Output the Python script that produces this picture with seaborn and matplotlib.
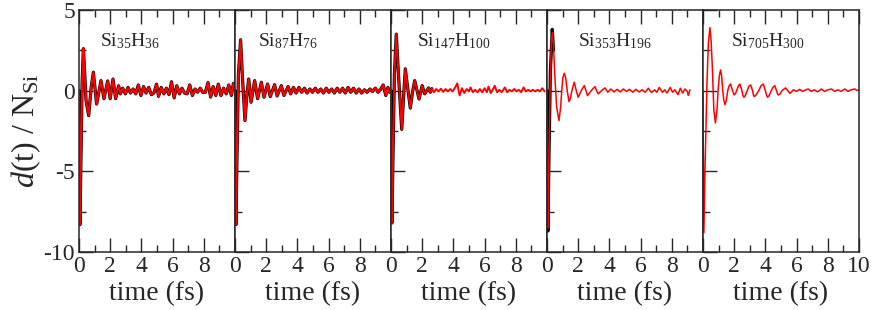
import numpy as np
import pandas as pd
import seaborn as sns
import matplotlib.pyplot as plt

sns.set_style("ticks")
plt.rcParams['font.family'] = ['Liberation Serif', 'DejaVu Serif']
plt.rcParams['mathtext.fontset'] = 'custom'
plt.rcParams['mathtext.rm'] = 'Liberation Serif'
plt.rcParams['mathtext.it'] = 'Liberation Serif:italic'

# (time in fs, d(t)/N_Si)
si35 = [(0, 0), (0.03, -5), (0.06, -8.3), (0.12, -4.5), (0.2, 0.5), (0.28, 2.6), (0.36, 1.2),
        (0.45, -0.6), (0.62, -1.55), (0.78, 0.2), (0.92, 1.14), (1.13, -0.83), (1.41, 0.62),
        (1.6, -0.5), (1.84, 0.6), (2.0, -0.5), (2.18, 0.72), (2.35, -0.5), (2.54, 0.3),
        (2.65, -0.2), (2.8, 0.15), (2.97, -0.2), (3.14, 0.2), (3.3, -0.15), (3.47, 0.1),
        (3.64, -0.2), (3.8, 0.35), (3.97, -0.3), (4.14, 0.25), (4.3, -0.15), (4.47, 0.2),
        (4.64, -0.25), (4.8, -0.15), (4.97, 0.4), (5.1, -0.35), (5.27, 0.2), (5.44, -0.2),
        (5.6, 0.15), (5.77, -0.25), (5.93, 0.55), (6.1, -0.45), (6.27, 0.3), (6.44, -0.2),
        (6.6, 0.15), (6.77, -0.15), (6.93, -0.2), (7.1, 0.35), (7.27, -0.3), (7.44, 0.1),
        (7.6, -0.1), (7.77, 0.15), (7.93, -0.1), (8.1, -0.1), (8.27, 0.5), (8.44, -0.4),
        (8.6, 0.25), (8.77, -0.3), (8.93, 0.4), (9.1, -0.3), (9.27, 0.15), (9.44, -0.2),
        (9.6, 0.35), (9.77, -0.3), (9.9, 0.45)]

si87 = [(0, 0), (0.03, -5), (0.06, -8.3), (0.13, -4), (0.22, 1), (0.36, 3.15), (0.48, 0.8),
        (0.64, -1.86), (0.77, -0.2), (0.88, 0.72), (1.03, -0.72), (1.26, 0.62), (1.45, -0.5),
        (1.69, 0.52), (1.86, -0.41), (2.09, 0.41), (2.26, -0.37), (2.54, 0.37), (2.7, -0.33),
        (2.97, 0.31), (3.14, -0.3), (3.4, 0.25), (3.57, -0.2), (3.75, 0.2), (3.92, -0.15),
        (4.1, 0.2), (4.27, -0.1), (4.45, 0.15), (4.62, -0.15), (4.8, 0.1), (4.97, -0.1),
        (5.15, 0.15), (5.32, -0.1), (5.5, 0.1), (5.67, -0.15), (5.85, 0.15), (6.02, -0.1),
        (6.2, 0.1), (6.37, -0.15), (6.55, 0.15), (6.72, -0.1), (6.9, 0.15), (7.07, -0.15),
        (7.25, 0.2), (7.42, -0.1), (7.6, 0.15), (7.77, -0.15), (7.95, 0.1), (8.12, -0.15),
        (8.3, 0.05), (8.47, -0.1), (8.65, 0.1), (8.82, -0.05), (9.0, 0.15), (9.17, -0.1),
        (9.35, 0.1), (9.5, 0.35), (9.67, -0.3), (9.8, 0.2), (9.9, -0.1)]

si147 = [(0, 0), (0.03, -5), (0.06, -8.2), (0.13, -4), (0.22, 1), (0.34, 3.5), (0.48, 1),
         (0.69, -2.4), (0.8, -0.5), (0.92, 1.35), (1.08, 0.1), (1.24, -1.08), (1.38, -0.1),
         (1.52, 0.62), (1.8, -0.52),
         (2.0, 0.31), (2.16, -0.2), (2.41, 0.17), (2.52, -0.1), (2.62, 0.12), (2.75, -0.1),
         (2.9, 0.1), (3.05, -0.05), (3.2, 0.12), (3.35, -0.08), (3.5, 0.1), (3.65, -0.05),
         (3.8, 0.1), (3.95, -0.05), (4.12, 0.2), (4.25, 0.45), (4.4, -0.3), (4.55, 0.15),
         (4.7, -0.15), (4.85, 0.1), (5.0, -0.05), (5.1, 0.2), (5.25, -0.1), (5.4, 0.05),
         (5.55, -0.1), (5.7, 0.1), (5.85, -0.1), (6.0, 0.15), (6.15, -0.1), (6.25, 0.25),
         (6.4, -0.15), (6.55, 0.1), (6.65, 0.3), (6.8, -0.1), (6.95, 0.05), (7.1, -0.1),
         (7.3, 0.2), (7.45, -0.1), (7.6, 0.05), (7.75, -0.05), (7.9, 0.1), (8.05, -0.05),
         (8.2, 0.05), (8.35, -0.1), (8.5, 0.2), (8.65, -0.05), (8.8, 0.05), (8.95, -0.05),
         (9.1, 0.05), (9.25, -0.05), (9.4, 0.05), (9.55, -0.05), (9.7, 0.15), (9.85, -0.05)]

si353 = [(0, 0), (0.03, -5), (0.06, -8.5), (0.13, -4), (0.22, 1), (0.28, 2.9), (0.34, 3.6),
         (0.42, 2.8), (0.5, 1), (0.62, -1.0), (0.77, -1.86), (0.88, -1.0), (0.95, 0),
         (1.02, 0.8), (1.11, 1.08), (1.2, 0.8), (1.3, 0), (1.41, -0.68), (1.5, -0.5),
         (1.6, 0), (1.75, 0.52), (1.88, 0), (2.0, -0.41), (2.2, 0), (2.39, 0.31), (2.5, 0),
         (2.6, -0.31), (2.84, 0), (3.08, 0.25), (3.18, 0), (3.29, -0.2), (3.5, 0), (3.72, 0.17),
         (3.9, -0.1), (4.1, 0.1), (4.3, -0.08), (4.5, 0.08), (4.7, -0.08), (4.9, 0.1), (5.1, -0.05),
         (5.3, 0.08), (5.5, -0.1), (5.7, 0.08), (5.9, -0.08), (6.1, 0.05), (6.3, -0.1),
         (6.5, 0.15), (6.7, -0.12), (6.9, 0.05), (7.05, -0.1), (7.2, 0.2), (7.4, -0.1),
         (7.55, 0.05), (7.7, -0.15), (7.9, 0.2), (8.05, -0.1), (8.2, 0.05), (8.4, -0.25),
         (8.55, 0.15), (8.7, -0.15), (8.85, 0.1), (9.0, -0.05), (9.06, -0.3), (9.17, 0.05)]
si353_ref = [(0, 0), (0.03, -5), (0.06, -8.7), (0.13, -4), (0.22, 1.2), (0.34, 3.8), (0.42, 2.5)]

si705 = [(0, 0), (0.03, -5), (0.06, -8.8), (0.14, -4.5), (0.26, 0.5), (0.35, 3.0), (0.45, 3.9),
         (0.53, 3.0), (0.6, 1.5), (0.7, -1.2), (0.8, -2.0), (0.9, -1.2), (0.97, 0),
         (1.05, 0.9), (1.13, 1.28), (1.2, 0.9), (1.27, 0), (1.34, -0.6), (1.41, -0.87),
         (1.5, -0.6), (1.59, 0), (1.68, 0.3), (1.77, 0.41), (1.88, 0.05), (2.0, -0.27),
         (2.1, -0.15), (2.18, 0.05), (2.28, 0.3), (2.37, 0.41), (2.5, 0), (2.56, -0.3),
         (2.63, -0.41), (2.72, -0.3), (2.84, 0), (2.95, 0.28), (3.06, 0.35), (3.18, 0),
         (3.24, -0.28), (3.29, -0.37), (3.4, -0.28), (3.58, 0), (3.72, 0.3), (3.87, 0.41),
         (4.0, 0), (4.08, -0.3), (4.15, -0.41), (4.25, -0.3), (4.38, 0), (4.5, 0.22),
         (4.6, 0.31), (4.72, 0), (4.78, -0.2), (4.83, -0.27), (4.95, -0.2), (5.07, 0),
         (5.3, 0.17), (5.44, 0), (5.58, -0.17), (5.8, 0.05), (6.0, -0.05), (6.2, 0.08),
         (6.4, -0.05), (6.6, 0.05), (6.75, 0.1), (6.95, -0.05), (7.15, 0.05), (7.35, -0.08),
         (7.6, 0.1), (7.8, -0.05), (8.0, 0.05), (8.25, 0.1), (8.45, -0.05), (8.65, 0.05),
         (8.85, -0.05), (9.1, 0.1), (9.3, -0.05), (9.5, 0.05), (9.74, 0.1), (9.9, 0), (10.0, 0.05)]

labels = ["Si$_{35}$H$_{36}$", "Si$_{87}$H$_{76}$", "Si$_{147}$H$_{100}$",
          "Si$_{353}$H$_{196}$", "Si$_{705}$H$_{300}$"]
label_x = [1.35, 1.5, 1.7, 2.0, 1.8]

red_sets = [si35, si87, si147, si353, si705]
black_sets = [si35, si87, [p for p in si147 if p[0] <= 2.65], si353_ref, None]
red_width = [1.5, 1.5, 1.4, 1.1, 1.1]


def to_df(pts):
    return pd.DataFrame(pts, columns=["t", "d"])


fig = plt.figure(figsize=(8.72, 3.1), dpi=100)
axes = fig.subplots(1, 5, sharey=True)
plt.subplots_adjust(left=0.0906, right=0.985, top=0.968, bottom=0.187, wspace=0)

for i, ax in enumerate(axes):
    if black_sets[i] is not None:
        sns.lineplot(data=to_df(black_sets[i]), x="t", y="d", ax=ax, color="black",
                     linewidth=2.3, estimator=None, sort=False)
    sns.lineplot(data=to_df(red_sets[i]), x="t", y="d", ax=ax, color="red",
                 linewidth=red_width[i], estimator=None, sort=False)
    ax.text(label_x[i], 2.75, labels[i], fontsize=14)
    ax.set_xlim(0, 10)
    ax.set_ylim(-10, 5)
    ax.set_xticks([0, 2, 4, 6, 8, 10])
    ax.set_xticks([1, 3, 5, 7, 9], minor=True)
    if i < 4:
        ax.set_xticklabels(["0", "2", "4", "6", "8", ""])
    ax.set_yticks([-10, -5, 0, 5])
    ax.set_yticks([-7.5, -2.5, 2.5], minor=True)
    ax.tick_params(which="both", direction="in", top=True, right=False, width=1.0,
                   labelsize=17, pad=3)
    ax.tick_params(which="major", length=10)
    ax.tick_params(which="minor", length=5)
    for s in ax.spines.values():
        s.set_linewidth(1.1)
    ax.set_xlabel("time (fs)", fontsize=20, labelpad=3)
    if i == 0:
        ax.set_ylabel("$d$(t) / N$_{\\mathrm{Si}}$", fontsize=23, labelpad=0)
        ax.set_yticklabels(["-10", "-5", "0", "5"])
    else:
        ax.set_ylabel("")
        ax.tick_params(labelleft=False)

fig.savefig("out.png", dpi=100)
